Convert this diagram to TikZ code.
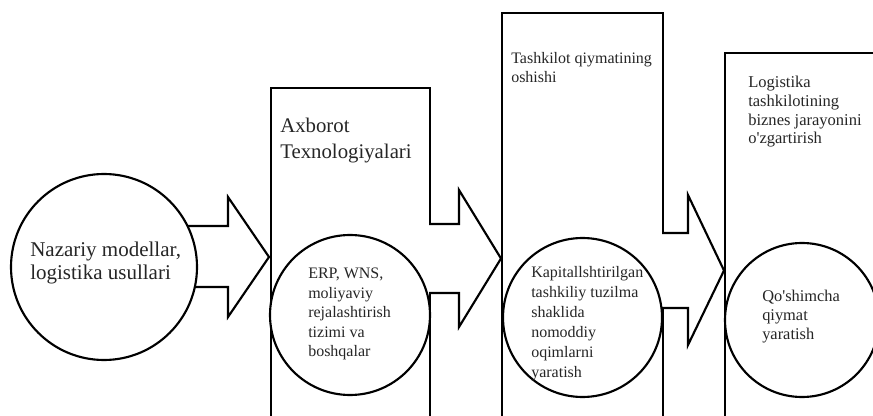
\documentclass[tikz,border=0pt]{standalone}
\usepackage{fontspec}
\setmainfont{Liberation Serif}
\newcommand\txtlines[1]{\parbox[t]{6cm}{#1}}
\tikzset{
  px/.style={x=0.75pt,y=-0.75pt},
  boxframe/.style={draw, fill=white, line width=1.6pt, rectangle, inner sep=0pt, anchor=north west},
  ring/.style={draw, fill=white, line width=1.6pt, circle, inner sep=0pt},
  blockarrow/.style={draw, fill=white, line width=1.6pt, line join=miter},
  label/.style={inner sep=0pt, anchor=base west, text=black!85}
}
\begin{document}
\begin{tikzpicture}[px]
\useasboundingbox (0,0) rectangle (873,416);
\clip (0,0) rectangle (873,416);
% boxes
\node[boxframe, minimum width=119.25pt, minimum height=270pt] (b1) at (270,87) {};
\node[boxframe, minimum width=120.75pt, minimum height=310pt] (b2) at (501,12) {};
\node[boxframe, minimum width=140pt, minimum height=280pt] (b3) at (724,52) {};
% circle centres
\coordinate (c1c) at (104,267);
\coordinate (c2c) at (350,315);
\coordinate (c3c) at (582.5,317.5);
\coordinate (c4c) at (802,320);
% block arrows
\draw[blockarrow] (150,226) -- (228,226) -- (228,197) -- (269,257) -- (228,317) -- (228,287) -- (150,287);
\draw[blockarrow] (429,224) -- (459,224) -- (459,190) -- (501,258.5) -- (459,327) -- (459,293) -- (429,293);
\draw[blockarrow] (662,233) -- (688,233) -- (688,195) -- (724,270.5) -- (688,345) -- (688,308) -- (662,308);
% circles
\node[ring, minimum size=139.5pt] (c1) at (c1c) {};
\node[ring, minimum size=120pt] (c2) at (c2c) {};
\node[ring, minimum size=119.25pt] (c3) at (c3c) {};
\node[ring, minimum size=115.5pt] (c4) at (c4c) {};
% texts
\node[label, font=\fontsize{15.75}{17.25}\selectfont] (t1) at (30,257) {\txtlines{Nazariy modellar,\\logistika usullari}};
\node[label, font=\fontsize{15.6}{19.5}\selectfont] (t2) at (280,133) {\txtlines{Axborot\\Texnologiyalari}};
\node[label, font=\fontsize{12}{14.6}\selectfont] (t3) at (308,279) {\txtlines{ERP, WNS,\\moliyaviy\\rejalashtirish\\tizimi va\\boshqalar}};
\node[label, font=\fontsize{12}{14.25}\selectfont] (t4) at (511,64) {\txtlines{Tashkilot qiymatining\\oshishi}};
\node[label, font=\fontsize{12}{15}\selectfont] (t5) at (531,277) {\txtlines{Kapitallshtirilgan\\tashkiliy tuzilma\\shaklida\\nomoddiy\\oqimlarni\\yaratish}};
\node[label, font=\fontsize{12.4}{13.9}\selectfont] (t6) at (748,88) {\txtlines{Logistika\\tashkilotining\\biznes jarayonini\\o\textquotesingle zgartirish}};
\node[label, font=\fontsize{12.3}{14.6}\selectfont] (t7) at (762,301) {\txtlines{Qo\textquotesingle shimcha\\qiymat\\yaratish}};
\end{tikzpicture}
\end{document}
